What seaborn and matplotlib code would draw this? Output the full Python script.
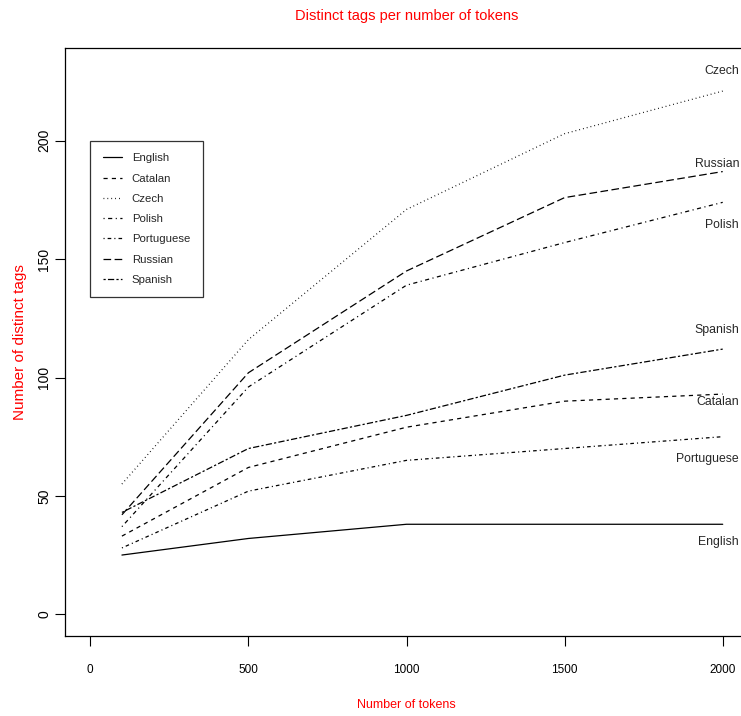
"""Distinct tags per number of tokens, drawn in an R base-graphics look."""

import matplotlib

matplotlib.use("Agg")

import matplotlib.pyplot as plt
import matplotlib.transforms as mtransforms
import pandas as pd
import seaborn as sns
from matplotlib.lines import Line2D

TOKENS = [100, 500, 1000, 1500, 2000]
LANGUAGES = ["English", "Catalan", "Czech", "Polish", "Portuguese", "Russian", "Spanish"]
ENGLISH = [25, 32, 38, 38, 38]
CATALAN = [33, 62, 79, 90, 93]
CZECH = [55, 116, 171, 203, 221]
POLISH = [37, 96, 139, 157, 174]
PORTUGUESE = [28, 52, 65, 70, 75]
RUSSIAN = [42, 102, 145, 176, 187]
SPANISH = [43, 70, 84, 101, 112]
X_TICKS = [0, 500, 1000, 1500, 2000]
Y_TICKS = [0, 50, 100, 150, 200]

# R-style line types
DASHES = {
    "English": "",
    "Catalan": (3, 3),
    "Czech": (0.6, 2.2),
    "Polish": (0.8, 2.5, 3, 2.5),
    "Portuguese": (0.8, 2.2, 2.6, 2.2),
    "Russian": (5.5, 2.5),
    "Spanish": (1.6, 1.6, 4.5, 1.6),
}
# where the end labels sit relative to the last point
LABEL_OFFSET = {
    "English": -7.5, "Catalan": -3.5, "Czech": 8.5, "Polish": -9.5,
    "Portuguese": -9.5, "Russian": 3, "Spanish": 8,
}

series = {
    "English": ENGLISH, "Catalan": CATALAN, "Czech": CZECH, "Polish": POLISH,
    "Portuguese": PORTUGUESE, "Russian": RUSSIAN, "Spanish": SPANISH,
}
df = pd.DataFrame(
    [{"tokens": t, "tags": v, "language": lang}
     for lang in LANGUAGES for t, v in zip(TOKENS, series[lang])]
)

sns.set_style("ticks")
plt.rcParams["font.family"] = ["Liberation Sans", "DejaVu Sans"]
plt.rcParams["lines.scale_dashes"] = False

W, H = 741, 716
fig = plt.figure(figsize=(W / 100, H / 100), dpi=100)
ax = fig.add_axes([65 / W, (H - 636) / H, (748 - 65) / W, (636 - 48) / H])

sns.lineplot(
    data=df, x="tokens", y="tags", hue="language", style="language",
    hue_order=LANGUAGES, style_order=LANGUAGES,
    palette={lang: "black" for lang in LANGUAGES}, dashes=DASHES,
    linewidth=0.9, legend=False, ax=ax,
)

# end labels, right-aligned against the figure edge
edge = mtransforms.blended_transform_factory(fig.transFigure, ax.transData)
for lang in LANGUAGES:
    ax.text(739 / W, series[lang][-1] + LABEL_OFFSET[lang], lang, transform=edge,
            ha="right", va="center", fontsize=8.8, clip_on=False)

ax.set_xlim(-80, 2080)
ax.set_ylim(-9.2, 239.2)
ax.set_xticks(X_TICKS)
ax.set_yticks(Y_TICKS)
ax.set_xticklabels([str(v) for v in X_TICKS], fontsize=8.5)
ax.set_yticklabels([str(v) for v in Y_TICKS], fontsize=10, rotation=90, va="center")
ax.tick_params(direction="out", length=7, width=0.8, colors="black")
ax.tick_params(axis="x", pad=13)
ax.tick_params(axis="y", pad=3)
for spine in ax.spines.values():
    spine.set_visible(True)
    spine.set_color("black")
    spine.set_linewidth(0.9)

ax.set_title("Distinct tags per number of tokens", color="red", fontsize=10.5, pad=20)
ax.set_xlabel("Number of tokens", color="red", fontsize=9)
ax.set_ylabel("Number of distinct tags", color="red", fontsize=11)
ax.xaxis.set_label_coords(0.5, -0.107)
ax.yaxis.set_label_coords(-0.056, 0.5)

handles = [
    Line2D([], [], color="black", linewidth=0.9,
           linestyle="-" if DASHES[lang] == "" else (0, DASHES[lang]))
    for lang in LANGUAGES
]
leg = ax.legend(
    handles, LANGUAGES, loc="upper left", bbox_to_anchor=(0, 200),
    bbox_transform=ax.transData, fontsize=8.2, frameon=True, fancybox=False,
    borderpad=1.1, labelspacing=0.9, handlelength=1.7, handletextpad=0.85,
    borderaxespad=0,
)
leg.get_frame().set_edgecolor("black")
leg.get_frame().set_linewidth(0.9)

fig.savefig("out.png", dpi=100)
